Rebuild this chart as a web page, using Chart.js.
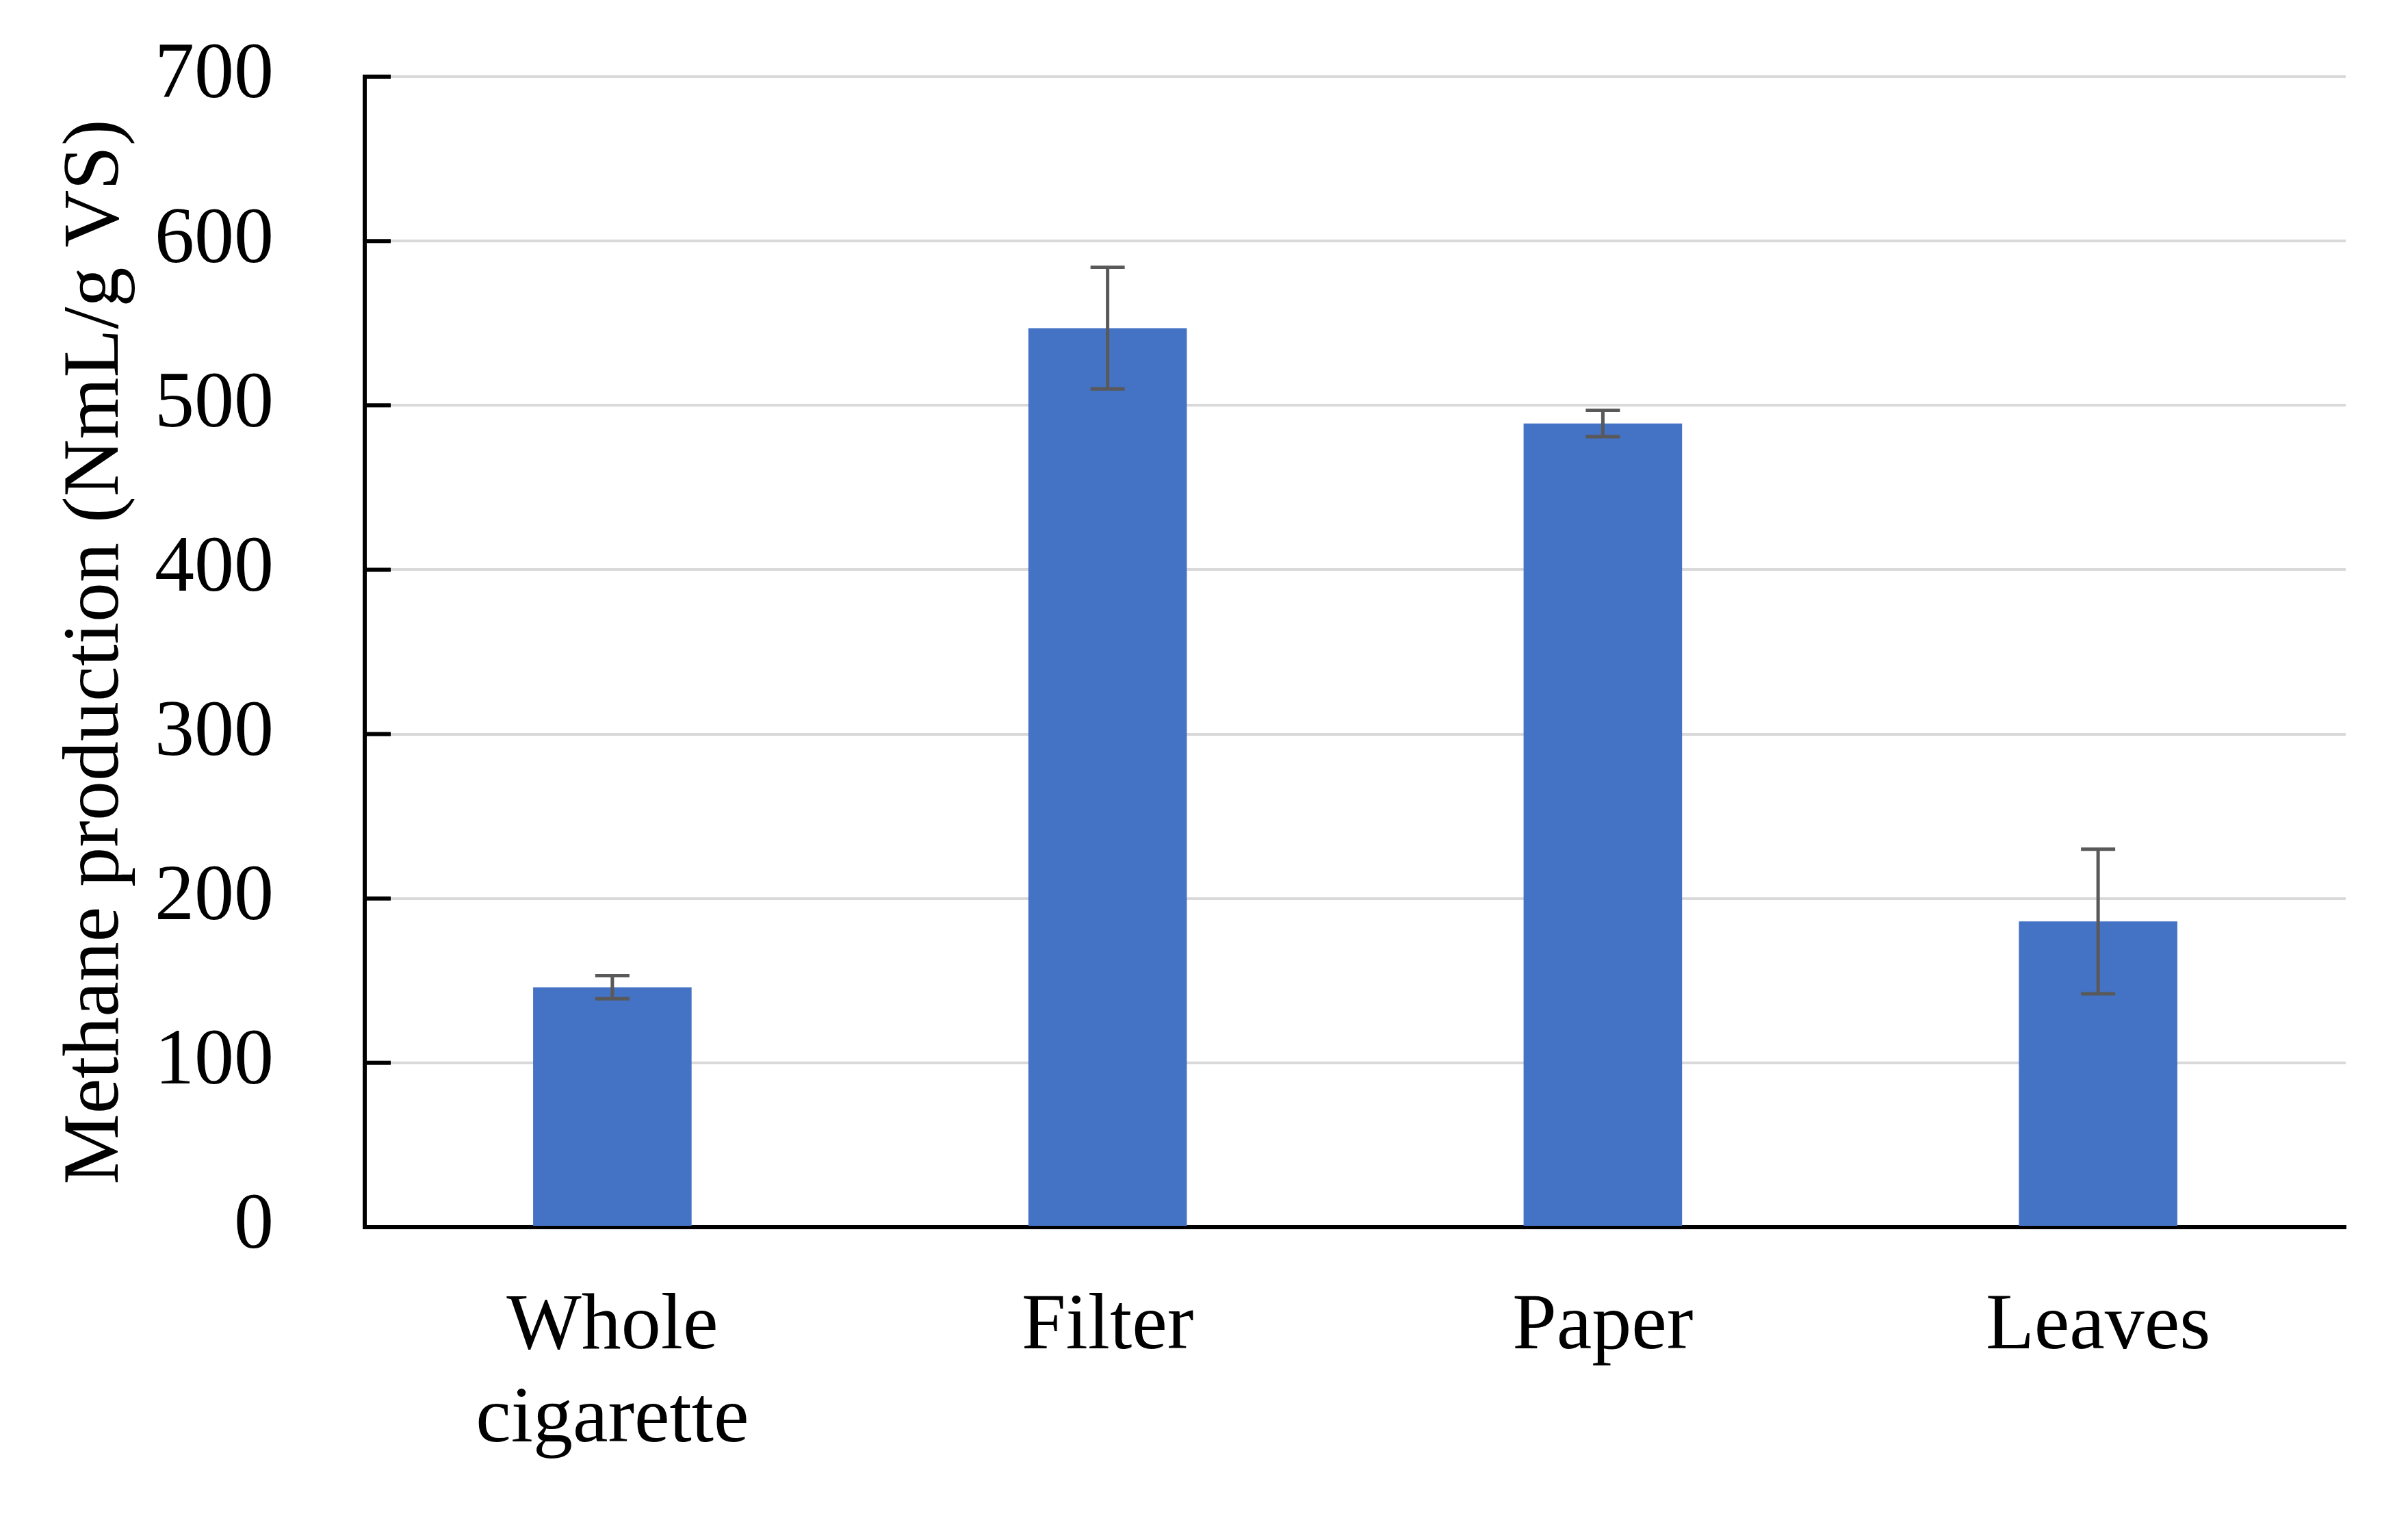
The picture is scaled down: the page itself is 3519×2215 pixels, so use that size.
<!DOCTYPE html>
<html>
<head>
<meta charset="utf-8">
<script src="https://cdn.jsdelivr.net/npm/chart.js@4"></script>
<style>
  html, body { margin: 0; padding: 0; background: #fff; }
  #wrap { width: 3519px; height: 2215px; }
</style>
</head>
<body>
<div id="wrap"><canvas id="methane-chart"></canvas></div>
<script>
var categories = [["Whole", "cigarette"], "Filter", "Paper", "Leaves"];
var methane = [146, 547, 489, 186];
var methaneErr = [7, 37, 8, 44];
var yTicks = [0, 100, 200, 300, 400, 500, 600, 700];

var FONT = "'Liberation Serif', 'Times New Roman', serif";

// error bars + the little inside tick marks on the y axis
var extras = {
  id: "extras",
  afterDatasetsDraw: function (chart) {
    var ctx = chart.ctx;
    var y = chart.scales.y;
    var bars = chart.getDatasetMeta(0).data;
    ctx.save();
    ctx.strokeStyle = "#595959";
    ctx.lineWidth = 5;
    bars.forEach(function (bar, i) {
      var top = y.getPixelForValue(methane[i] + methaneErr[i]);
      var bot = y.getPixelForValue(methane[i] - methaneErr[i]);
      ctx.beginPath();
      ctx.moveTo(bar.x, top);
      ctx.lineTo(bar.x, bot);
      ctx.moveTo(bar.x - 25, top);
      ctx.lineTo(bar.x + 25, top);
      ctx.moveTo(bar.x - 25, bot);
      ctx.lineTo(bar.x + 25, bot);
      ctx.stroke();
    });
    ctx.strokeStyle = "#000";
    ctx.lineWidth = 6;
    var left = chart.chartArea.left;
    yTicks.forEach(function (v) {
      var py = y.getPixelForValue(v);
      ctx.beginPath();
      ctx.moveTo(left, py);
      ctx.lineTo(left + 38, py);
      ctx.stroke();
    });
    ctx.restore();
  },
};

new Chart(document.getElementById("methane-chart"), {
  type: "bar",
  data: {
    labels: categories,
    datasets: [
      {
        data: methane,
        backgroundColor: "#4472c4",
        barPercentage: 0.32,
        categoryPercentage: 1,
      },
    ],
  },
  options: {
    responsive: true,
    maintainAspectRatio: false,
    animation: false,
    layout: { padding: { top: 112, right: 91, left: 0, bottom: 0 } },
    plugins: {
      legend: { display: false },
      tooltip: { enabled: false },
    },
    scales: {
      x: {
        grid: { display: false, drawTicks: false },
        border: { display: true, color: "#000", width: 6 },
        ticks: {
          color: "#000",
          padding: 79,
          maxRotation: 0,
          font: { family: FONT, size: 116, lineHeight: 1.17 },
        },
        afterFit: function (s) { s.height = 422; },
      },
      y: {
        min: 0,
        max: 700,
        afterBuildTicks: function (s) {
          s.ticks = yTicks.map(function (v) { return { value: v }; });
        },
        grid: { color: "#d9d9d9", lineWidth: 4, drawTicks: false },
        border: { display: true, color: "#000", width: 6 },
        ticks: {
          color: "#000",
          padding: 133,
          font: { family: FONT, size: 116 },
        },
        title: {
          display: true,
          text: "Methane production (NmL/g VS)",
          color: "#000",
          padding: { top: 72, bottom: 0 },
          font: { family: FONT, size: 116 },
        },
        afterFit: function (s) {
          s.width = 533;
          // tick padding would otherwise push the plot down
          s.paddingTop = 0;
          s.paddingBottom = 0;
        },
      },
    },
  },
  plugins: [extras],
});
</script>
</body>
</html>
